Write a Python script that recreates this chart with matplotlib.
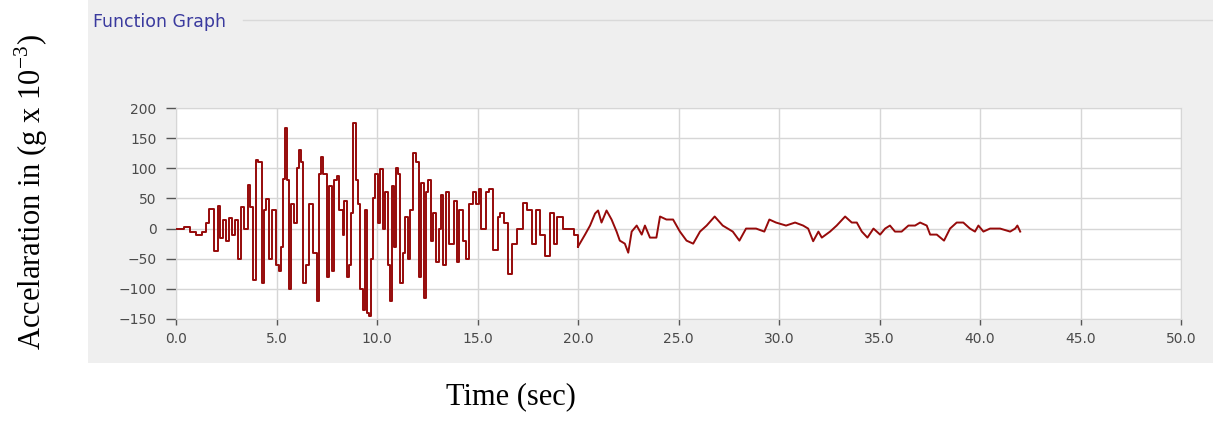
import numpy as np
import matplotlib.pyplot as plt
from matplotlib.patches import Rectangle
from matplotlib.lines import Line2D

plt.rcParams['mathtext.fontset'] = 'custom'
plt.rcParams['mathtext.rm'] = 'Liberation Serif'

# time (s) and acceleration (g x 10^-3)
t = [0.0, 0.4, 0.7, 1.0, 1.3, 1.5, 1.66, 1.9, 2.07, 2.2, 2.35, 2.5, 2.65, 2.8, 2.95,
     3.07, 3.23, 3.4, 3.57, 3.7, 3.85, 3.98, 4.1, 4.26, 4.39, 4.48, 4.64, 4.8, 4.98,
     5.14, 5.22, 5.3, 5.42, 5.52, 5.64, 5.72, 5.89, 6.0, 6.14, 6.22, 6.3, 6.47, 6.63,
     6.8, 7.0, 7.13, 7.21, 7.33, 7.5, 7.63, 7.76, 7.88, 8.0, 8.13, 8.29, 8.37, 8.49,
     8.62, 8.7, 8.82, 8.9, 8.95, 9.04, 9.15, 9.28, 9.4, 9.5, 9.62, 9.7, 9.82, 9.92,
     10.03, 10.17, 10.28, 10.41, 10.53, 10.65, 10.75, 10.86, 10.95, 11.03, 11.16,
     11.28, 11.41, 11.53, 11.66, 11.81, 11.94, 12.07, 12.2, 12.32, 12.44, 12.55,
     12.69, 12.8, 12.94, 13.07, 13.18, 13.3, 13.43, 13.57, 13.71, 13.85, 13.96, 14.1,
     14.26, 14.43, 14.59, 14.79, 14.93, 15.06, 15.17, 15.42, 15.59, 15.79, 16.0,
     16.12, 16.3, 16.5, 16.7, 16.95, 17.24, 17.44, 17.69, 17.9, 18.1, 18.35, 18.6,
     18.8, 18.97, 19.27, 19.6, 19.8, 20.0, 20.35, 20.6, 20.85, 21.0, 21.17, 21.42,
     21.67, 21.92, 22.08, 22.33, 22.5, 22.67, 22.92, 23.17, 23.33, 23.58, 23.9,
     24.08, 24.4, 24.73, 25.07, 25.4, 25.73, 26.07, 26.4, 26.8, 27.2, 27.7, 28.03,
     28.36, 28.86, 29.27, 29.52, 29.85, 30.35, 30.8, 31.2, 31.45, 31.7, 31.96, 32.13,
     32.54, 32.87, 33.29, 33.62, 33.87, 34.12, 34.4, 34.7, 35.03, 35.28, 35.52,
     35.77, 36.1, 36.44, 36.77, 37.02, 37.35, 37.52, 37.85, 38.21, 38.51, 38.84,
     39.17, 39.5, 39.75, 39.92, 40.17, 40.5, 41.0, 41.5, 41.75, 41.86, 42.0]
acc = [0, 2, -5, -10, -5, 10, 33, -38, 38, -15, 15, -20, 18, -10, 15,
       -51, 35, 0, 72, 35, -85, 113, 110, -90, 30, 49, -50, 30, -60,
       -70, -30, 83, 166, 80, -100, 40, 10, 100, 130, 110, -90, -60, 40,
       -40, -120, 90, 119, 90, -80, 70, -70, 80, 88, 30, -10, 45, -80,
       -60, 25, 175, 175, 80, 40, -100, -135, 30, -140, -145, -50, 50, 90,
       10, 99, 0, 60, -60, -120, 70, -30, 100, 90, -90,
       -40, 20, -50, 30, 125, 110, -80, 75, -115, 60, 80,
       -20, 25, -55, 0, 55, -60, 60, -25, -25, 45, -55, 30,
       -20, -50, 40, 61, 40, 65, 0, 60, 66, -35, 20,
       25, 10, -76, -25, 0, 42, 30, -25, 30, -10, -45, 25,
       -25, 20, 0, 0, -10, -30, -10, 5, 25, 30, 10, 30,
       15, -5, -20, -25, -40, -5, 5, -10, 5, -15, -15,
       20, 15, 15, -5, -20, -25, -5, 5, 20, 5, -5, -20,
       0, 0, -5, 15, 10, 5, 10, 5, 0, -21, -5, -15,
       -5, 5, 20, 10, 10, -5, -15, 0, -10, 0, 5,
       -5, -5, 5, 5, 10, 5, -10, -10, -20, 0, 10,
       10, 0, -5, 5, -5, 0, 0, -5, 0, 5, -5]

xticks = np.arange(0, 50.1, 5)
xticklabels = ["%.1f" % v for v in xticks]
yticks = [-150, -100, -50, 0, 50, 100, 150, 200]

W, H = 1213, 421
fig = plt.figure(figsize=(W / 100, H / 100), dpi=100)

# grey window panel behind the chart
fig.patches.append(Rectangle((88 / W, 1 - 363 / H), 1 - 88 / W, 363 / H,
                             transform=fig.transFigure, facecolor="#efefef",
                             edgecolor="none", zorder=-2))
fig.text(93 / W, 1 - 22 / H, "Function Graph", color="#3a3a9e", fontsize=12.5,
         va="center", ha="left", family="DejaVu Sans")
fig.lines.append(Line2D([243 / W, 1], [1 - 20 / H, 1 - 20 / H], transform=fig.transFigure,
                        color="#d9d9d9", lw=1, zorder=-1))

ax = fig.add_axes([176 / W, 1 - 319 / H, (1181 - 176) / W, (319 - 108) / H])
ax.set_facecolor("white")

# strong shaking drawn as held steps, quieter tail as a plain line
tt = np.array(t)
aa = np.array(acc)
n = np.searchsorted(tt, 20.0) + 1
ax.plot(tt[:n], aa[:n], color="#960a0a", lw=1.4, drawstyle="steps-post", zorder=3)
ax.plot(tt[n - 1:], aa[n - 1:], color="#960a0a", lw=1.4, zorder=3)

ax.set_xlim(0, 50)
ax.set_ylim(-150, 200)
ax.set_xticks(xticks)
ax.set_xticklabels(xticklabels)
ax.set_yticks(yticks)
ax.grid(True, color="#d6d6d6", lw=1)
ax.set_axisbelow(True)
for s in ax.spines.values():
    s.set_color("#d6d6d6")
ax.tick_params(axis="y", direction="out", length=7, width=1, color="#555555",
               labelsize=10, labelcolor="#4a4a4a", pad=7)
ax.tick_params(axis="x", direction="out", length=4.5, width=1, color="#555555",
               labelsize=10, labelcolor="#4a4a4a", pad=5)

fig.text(31 / W, 1 - 192 / H, "Accelaration in (g x 10$^{\\mathrm{-3}}$)", rotation=90,
         family="Liberation Serif", fontsize=22, va="center", ha="center")
fig.text(511 / W, 1 - 397 / H, "Time (sec)", family="Liberation Serif", fontsize=22,
         va="center", ha="center")

fig.savefig("out.png", dpi=100)
